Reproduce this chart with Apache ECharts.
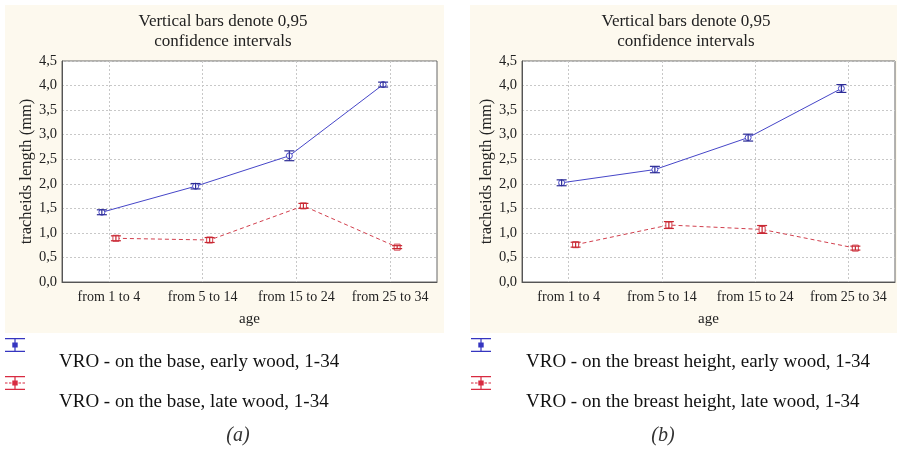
<!DOCTYPE html>
<html>
<head>
<meta charset="utf-8">
<script src="https://cdn.jsdelivr.net/npm/echarts@6/dist/echarts.min.js"></script>
<style>
html,body{margin:0;padding:0;background:#fff;}
#c{width:897px;height:450px;}
</style>
</head>
<body>
<div id="c"></div>
<script>
// ---- data ----
const categories = ['from 1 to 4', 'from 5 to 14', 'from 15 to 24', 'from 25 to 34'];
const yTicks = [0, 0.5, 1, 1.5, 2, 2.5, 3, 3.5, 4, 4.5];

const baseEarly = [1.42, 1.95, 2.57, 4.02];
const baseEarlyCI = [0.05, 0.055, 0.10, 0.05];
const baseLate = [0.89, 0.855, 1.55, 0.71];
const baseLateCI = [0.05, 0.05, 0.05, 0.03];

const breastEarly = [2.02, 2.29, 2.94, 3.94];
const breastEarlyCI = [0.06, 0.065, 0.07, 0.08];
const breastLate = [0.76, 1.16, 1.07, 0.69];
const breastLateCI = [0.05, 0.07, 0.08, 0.04];

const names = {
  baseEarly: 'VRO - on the base, early wood, 1-34',
  baseLate: 'VRO - on the base, late wood, 1-34',
  breastEarly: 'VRO - on the breast height, early wood, 1-34',
  breastLate: 'VRO - on the breast height, late wood, 1-34'
};
const titleText = 'Vertical bars denote 0,95\nconfidence intervals';
const yName = 'tracheids length (mm)';
const xName = 'age';
const captions = ['(a)', '(b)'];

// ---- styles ----
const FONT = 'Liberation Serif';
const BLUE = '#4646c8', BLUE_BAR = '#2c2c96', BLUE_DOT = '#3535c0';
const RED = '#d2404e', RED_BAR = '#c82832', RED_DOT = '#d82a40';
const OFF = 0.075; // horizontal offset of the two series around a category

const iconEarly = 'path://M0 0h20v1.3H0z M0 12.7h20v1.3H0z M9.4 0h1.2v14H9.4z M7.3 4.5h5.4v5H7.3z';
const iconLate = 'path://M0 0h20v1.3H0z M0 12.7h20v1.3H0z M9.4 0h1.2v14H9.4z M7.3 4.5h5.4v5H7.3z M0 6.5h2.5v1H0z M4 6.5h2.5v1H4z M13.5 6.5h2.5v1h-2.5z M17.5 6.5h2.5v1h-2.5z';

function fmt(v){ return v.toFixed(1).replace('.', ','); }

const grids = [
  {left: 62, top: 61, width: 375, height: 221},
  {left: 522, top: 61, width: 373, height: 221}
];

function errorBarSeries(name, xIdx, yIdx, vals, ci, off, color) {
  return {
    type: 'custom', name: name + ' CI', xAxisIndex: xIdx, yAxisIndex: yIdx, z: 4,
    silent: true,
    data: vals.map((v, i) => [i + off, v - ci[i], v + ci[i]]),
    renderItem: function (params, api) {
      const lo = api.coord([api.value(0), api.value(1)]);
      const hi = api.coord([api.value(0), api.value(2)]);
      const hw = 5;
      const st = {stroke: color, lineWidth: 1.2, fill: null};
      return {type: 'group', children: [
        {type: 'line', shape: {x1: lo[0], y1: lo[1], x2: hi[0], y2: hi[1]}, style: st},
        {type: 'line', shape: {x1: lo[0]-hw, y1: lo[1], x2: lo[0]+hw, y2: lo[1]}, style: st},
        {type: 'line', shape: {x1: hi[0]-hw, y1: hi[1], x2: hi[0]+hw, y2: hi[1]}, style: st}
      ]};
    }
  };
}

function lineSeries(name, xIdx, yIdx, vals, off, color, dashed, symbol) {
  return {
    type: 'line', name: name, xAxisIndex: xIdx, yAxisIndex: yIdx, z: 3,
    data: vals.map((v, i) => [i + off, v]),
    symbol: symbol, symbolSize: 6, showSymbol: true,
    lineStyle: {color: color, width: 1, type: dashed ? [4, 3] : 'solid'},
    itemStyle: {color: '#ffffff', borderColor: color, borderWidth: 1},
    emphasis: {disabled: true},
    animation: false
  };
}

const xAxes = [], yAxes = [];
[0, 1].forEach(g => {
  xAxes.push({
    type: 'category', gridIndex: g, data: categories, boundaryGap: true,
    name: xName, nameLocation: 'middle', nameGap: 30,
    nameTextStyle: {fontFamily: FONT, fontSize: 15, color: '#222'},
    axisLine: {onZero: false, lineStyle: {color: '#555'}},
    axisTick: {show: false, alignWithLabel: true, interval: 0},
    axisLabel: {fontFamily: FONT, fontSize: 14, color: '#222', margin: 8, interval: 0},
    splitLine: {show: true, alignWithLabel: true, interval: 0, showMinLine: true, lineStyle: {color: '#c8c8c8', type: [2, 2]}}
  });
  xAxes.push({
    type: 'value', gridIndex: g, min: -0.5, max: 3.5, show: false,
    axisLine: {onZero: false},
    splitLine: {show: false}
  });
  yAxes.push({
    type: 'value', gridIndex: g, min: 0, max: 4.5, interval: 0.5,
    name: yName, nameLocation: 'middle', nameRotate: 90, nameGap: g === 0 ? 27 : 25,
    nameTextStyle: {fontFamily: FONT, fontSize: 16.5, color: '#222'},
    axisLine: {show: true, onZero: false, lineStyle: {color: '#555'}},
    axisTick: {show: false},
    axisLabel: {fontFamily: FONT, fontSize: 14.5, color: '#222', margin: 5, formatter: fmt},
    splitLine: {show: true, lineStyle: {color: '#c8c8c8', type: [2, 2]}}
  });
});

const iconLegendCommon = {
  orient: 'vertical', itemWidth: 20, itemHeight: 14, itemGap: 24,
  selectedMode: false, padding: 0, formatter: function () { return ''; },
  textStyle: {fontSize: 1}
};
const textLegendCommon = {
  orient: 'vertical', itemWidth: 0, itemHeight: 22, itemGap: 18,
  selectedMode: false, padding: 0, icon: 'none',
  textStyle: {fontFamily: FONT, fontSize: 19, color: '#111', lineHeight: 22}
};

const option = {
  animation: false,
  backgroundColor: '#ffffff',
  graphic: [
    {type: 'rect', z: -10, shape: {x: 5, y: 5, width: 439, height: 328}, style: {fill: '#fdf9ee'}},
    {type: 'rect', z: -10, shape: {x: 470, y: 5, width: 427, height: 328}, style: {fill: '#fdf9ee'}}
  ],
  title: [
    {text: titleText, left: 223, top: 12, textAlign: 'center', padding: 0,
     textStyle: {fontFamily: FONT, fontSize: 17, fontWeight: 'normal', color: '#222', lineHeight: 20}},
    {text: titleText, left: 686, top: 12, textAlign: 'center', padding: 0,
     textStyle: {fontFamily: FONT, fontSize: 17, fontWeight: 'normal', color: '#222', lineHeight: 20}},
    {text: captions[0], left: 238, top: 426, textAlign: 'center', padding: 0,
     textStyle: {fontFamily: FONT, fontSize: 20, fontStyle: 'italic', fontWeight: 'normal', color: '#333'}},
    {text: captions[1], left: 663, top: 426, textAlign: 'center', padding: 0,
     textStyle: {fontFamily: FONT, fontSize: 20, fontStyle: 'italic', fontWeight: 'normal', color: '#333'}}
  ],
  legend: [
    Object.assign({}, iconLegendCommon, {left: 5, top: 338,
      data: [
        {name: names.baseEarly, icon: iconEarly, itemStyle: {color: BLUE_DOT, borderWidth: 0}},
        {name: names.baseLate, icon: iconLate, itemStyle: {color: RED_DOT, borderWidth: 0}}
      ]}),
    Object.assign({}, iconLegendCommon, {left: 471, top: 338,
      data: [
        {name: names.breastEarly, icon: iconEarly, itemStyle: {color: BLUE_DOT, borderWidth: 0}},
        {name: names.breastLate, icon: iconLate, itemStyle: {color: RED_DOT, borderWidth: 0}}
      ]}),
    Object.assign({}, textLegendCommon, {left: 54, top: 351,
      data: [names.baseEarly, names.baseLate]}),
    Object.assign({}, textLegendCommon, {left: 521, top: 351,
      data: [names.breastEarly, names.breastLate]})
  ],
  grid: grids.map(g => Object.assign({show: true, backgroundColor: '#ffffff', borderColor: '#666', borderWidth: 1}, g)),
  xAxis: xAxes,
  yAxis: yAxes,
  series: [
    lineSeries(names.baseEarly, 1, 0, baseEarly, -OFF, BLUE, false, 'circle'),
    errorBarSeries(names.baseEarly, 1, 0, baseEarly, baseEarlyCI, -OFF, BLUE_BAR),
    lineSeries(names.baseLate, 1, 0, baseLate, OFF, RED, true, 'rect'),
    errorBarSeries(names.baseLate, 1, 0, baseLate, baseLateCI, OFF, RED_BAR),
    lineSeries(names.breastEarly, 3, 1, breastEarly, -OFF, BLUE, false, 'circle'),
    errorBarSeries(names.breastEarly, 3, 1, breastEarly, breastEarlyCI, -OFF, BLUE_BAR),
    lineSeries(names.breastLate, 3, 1, breastLate, OFF, RED, true, 'rect'),
    errorBarSeries(names.breastLate, 3, 1, breastLate, breastLateCI, OFF, RED_BAR)
  ]
};

const chart = echarts.init(document.getElementById('c'), null, {renderer: 'canvas'});
chart.setOption(option);
</script>
</body>
</html>
